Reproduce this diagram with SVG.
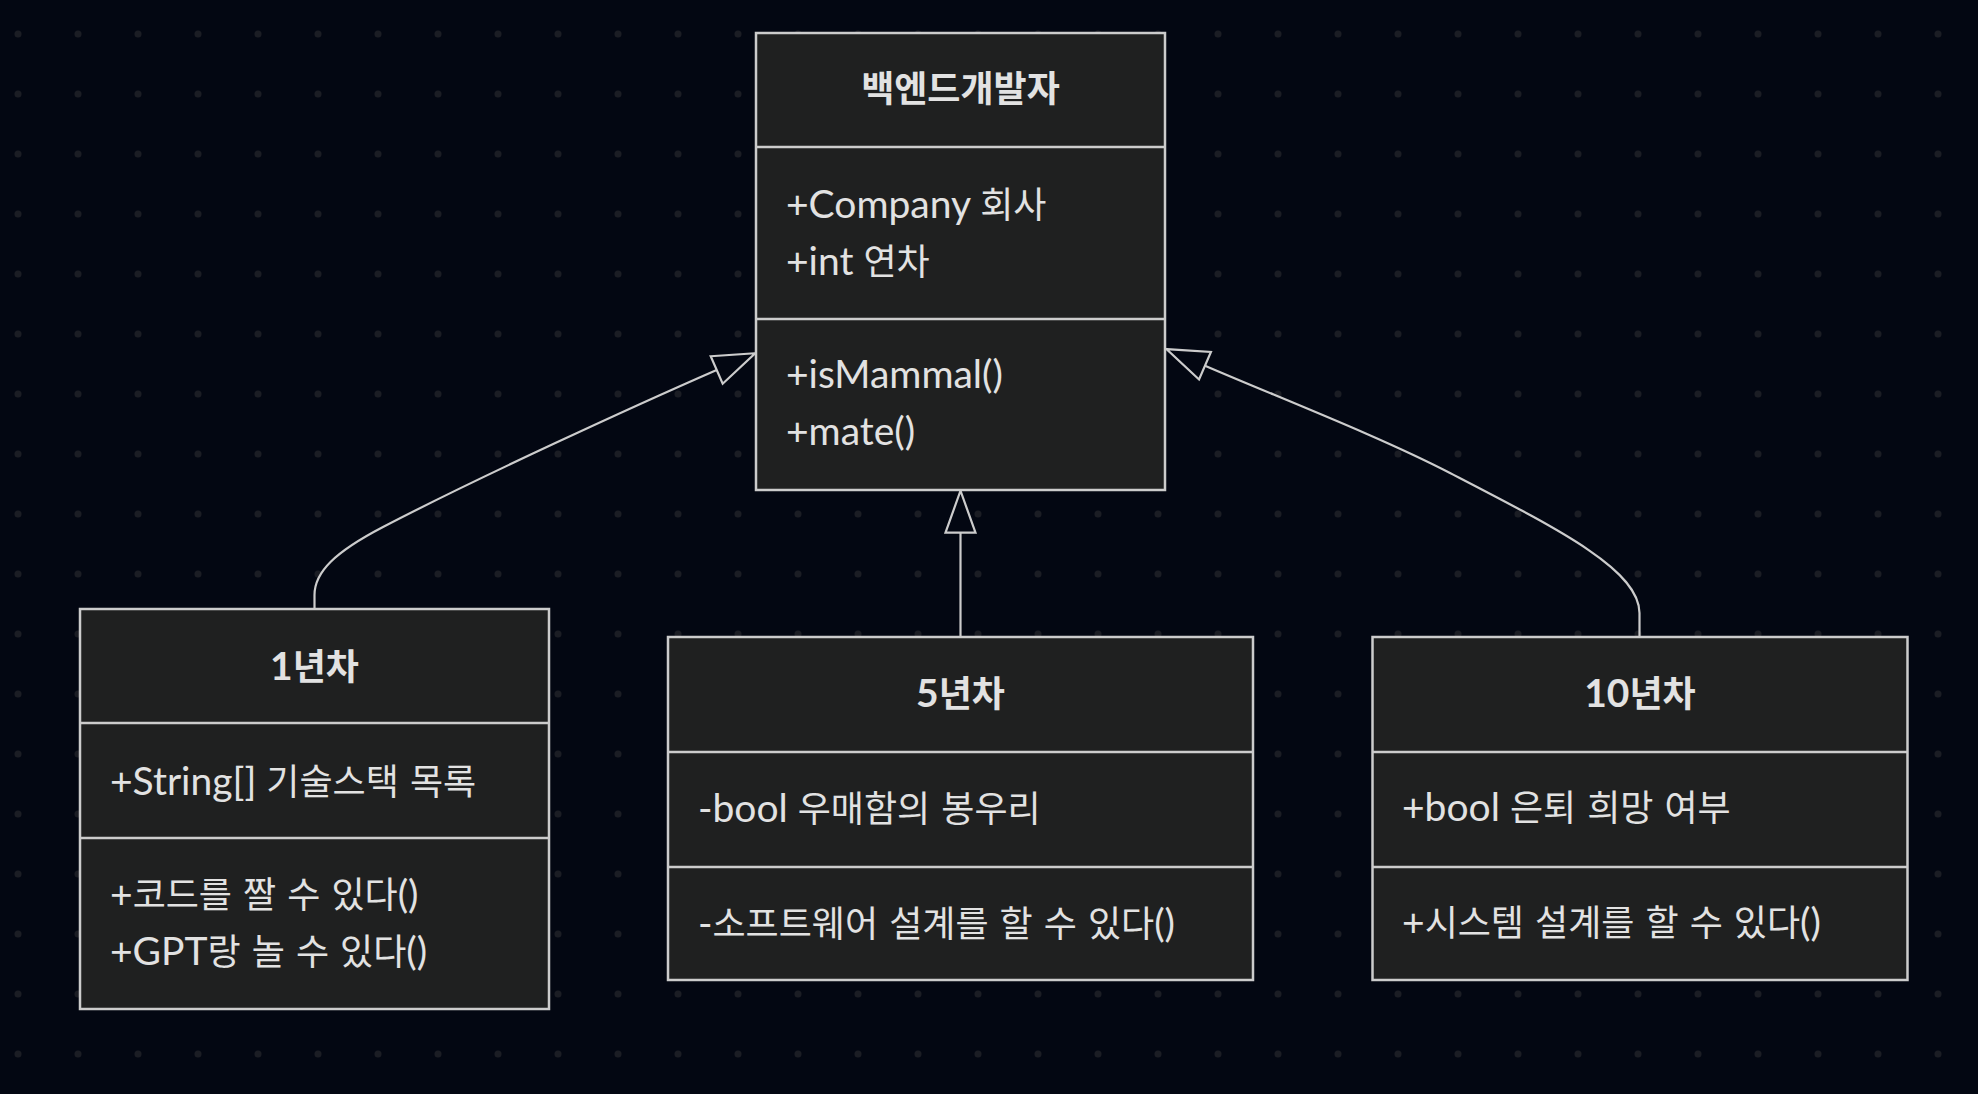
<svg xmlns="http://www.w3.org/2000/svg" width="1978" height="1094" viewBox="0 0 1978 1094">
<defs>
  <pattern id="dots" width="60" height="60" patternUnits="userSpaceOnUse">
    <circle cx="18" cy="34" r="3.5" fill="#1b1d24"/>
  </pattern>
  <marker id="ext" markerUnits="userSpaceOnUse" markerWidth="48" markerHeight="36" viewBox="-3 -3 48 36" refX="0" refY="15" orient="auto" overflow="visible">
    <path d="M0,0 L42,15 L0,30 Z" fill="none" stroke="#cccccc" stroke-width="2.2" stroke-linejoin="miter"/>
  </marker>
</defs>
<style>
  .box { fill: #1f2020; stroke: #cccccc; stroke-width: 2.5; }
  .div { stroke: #cccccc; stroke-width: 2.5; }
  .edge { fill: none; stroke: #cccccc; stroke-width: 2.2; }
  .t { font-family: Lato, "Noto Sans CJK KR", sans-serif; font-size: 39px; fill: #e2e2e2; }
  .k { font-family: "Noto Sans CJK KR", sans-serif; font-size: 36px; word-spacing: 3px; }
  .h { text-anchor: middle; font-weight: bold; }
</style>
<rect width="1978" height="1094" fill="#030712"/>
<rect width="1978" height="1094" fill="url(#dots)"/>

<g id="connectors">
  <path class="edge" d="M314.5,609 V595 C314.5,572 335,552 383,527 C479,477 636.7,404.9 716.7,370" marker-end="url(#ext)"/>
  <path class="edge" d="M960.5,637 V532.7" marker-end="url(#ext)"/>
  <path class="edge" d="M1639.5,637 V613 C1639.5,570 1560,530 1450,473 C1380,436.7 1280,398 1205,365.7" marker-end="url(#ext)"/>
</g>

<g id="node-backend">
  <rect class="box" x="756" y="33" width="409" height="457"/>
  <line class="div" x1="756" y1="147" x2="1165" y2="147"/>
  <line class="div" x1="756" y1="319" x2="1165" y2="319"/>
  <text class="t h" x="960.5" y="102"><tspan class="k">백엔드개발자</tspan></text>
  <text class="t" x="786" y="218">+Company <tspan class="k">회사</tspan></text>
  <text class="t" x="786" y="275">+int <tspan class="k">연차</tspan></text>
  <text class="t" x="786" y="388">+isMammal()</text>
  <text class="t" x="786" y="445">+mate()</text>
</g>

<g id="node-year1">
  <rect class="box" x="80" y="609" width="469" height="400"/>
  <line class="div" x1="80" y1="723" x2="549" y2="723"/>
  <line class="div" x1="80" y1="838" x2="549" y2="838"/>
  <text class="t h" x="314.5" y="680">1<tspan class="k">년차</tspan></text>
  <text class="t" x="110" y="795">+String[] <tspan class="k">기술스택 목록</tspan></text>
  <text class="t" x="110" y="908">+<tspan class="k">코드를 짤 수 있다</tspan>()</text>
  <text class="t" x="110" y="965">+GPT<tspan class="k">랑 놀 수 있다</tspan>()</text>
</g>

<g id="node-year5">
  <rect class="box" x="668" y="637" width="585" height="343"/>
  <line class="div" x1="668" y1="752" x2="1253" y2="752"/>
  <line class="div" x1="668" y1="867" x2="1253" y2="867"/>
  <text class="t h" x="960.5" y="707">5<tspan class="k">년차</tspan></text>
  <text class="t" x="698" y="822">-bool <tspan class="k">우매함의 봉우리</tspan></text>
  <text class="t" x="698" y="937">-<tspan class="k">소프트웨어 설계를 할 수 있다</tspan>()</text>
</g>

<g id="node-year10">
  <rect class="box" x="1372.5" y="637" width="535" height="343"/>
  <line class="div" x1="1372.5" y1="752" x2="1907.5" y2="752"/>
  <line class="div" x1="1372.5" y1="867" x2="1907.5" y2="867"/>
  <text class="t h" x="1640" y="707">10<tspan class="k">년차</tspan></text>
  <text class="t" x="1402" y="821">+bool <tspan class="k">은퇴 희망 여부</tspan></text>
  <text class="t" x="1402" y="936">+<tspan class="k">시스템 설계를 할 수 있다</tspan>()</text>
</g>
</svg>
